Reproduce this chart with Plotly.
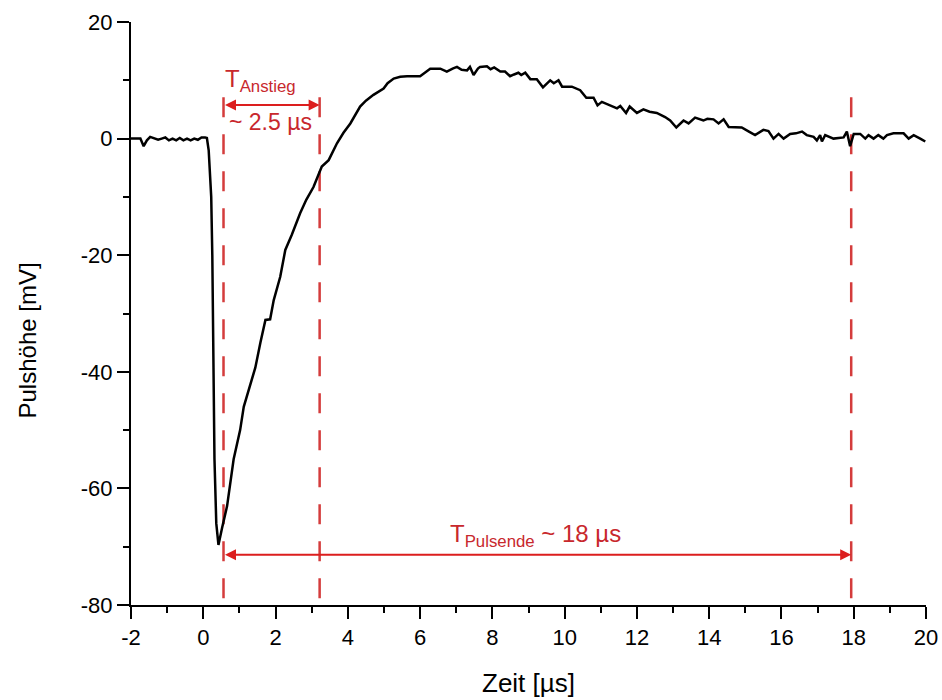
import plotly.graph_objects as go

# Measured pulse (time in µs, pulse height in mV)
time_us = [-2.0, -1.85, -1.74, -1.65, -1.56, -1.47, -1.35, -1.25, -1.15, -1.05, -0.95, -0.85,
           -0.75, -0.65, -0.55, -0.45, -0.35, -0.25, -0.15, -0.05, 0.05, 0.10,
           0.15, 0.19, 0.22, 0.25, 0.27, 0.29, 0.31, 0.36, 0.42,
           0.52, 0.66, 0.84, 1.02, 1.12, 1.28, 1.44, 1.58, 1.72, 1.85, 1.95, 2.13, 2.27,
           2.45, 2.68, 2.85, 3.05, 3.28, 3.47, 3.70, 3.88, 4.07, 4.34, 4.50, 4.71, 4.99,
           5.10, 5.27, 5.45, 5.64, 6.00, 6.15, 6.28, 6.56, 6.74, 6.90, 7.02, 7.15, 7.30,
           7.38, 7.48, 7.60, 7.66, 7.85, 7.95, 8.05, 8.16, 8.22, 8.35, 8.49, 8.60, 8.72,
           8.80, 8.91, 9.05, 9.23, 9.40, 9.50, 9.60, 9.70, 9.83, 9.93, 10.2, 10.43, 10.6,
           10.8, 10.91, 11.03, 11.15, 11.26, 11.45, 11.54, 11.7, 11.8, 12.0, 12.18, 12.35,
           12.55, 12.78, 12.92, 13.09, 13.29, 13.43, 13.61, 13.84, 13.95, 14.12, 14.26,
           14.40, 14.54, 14.7, 14.9, 15.1, 15.27, 15.5, 15.64, 15.78, 15.92, 16.06, 16.24,
           16.4, 16.57, 16.7, 16.89, 16.98, 17.07, 17.12, 17.21, 17.44, 17.72, 17.81, 17.9,
           18.0, 18.18, 18.32, 18.41, 18.55, 18.68, 18.82, 18.92, 19.1, 19.38, 19.52,
           19.66, 19.84, 19.98]
height_mv = [0.0, 0.0, 0.0, -1.3, -0.3, 0.3, 0.0, -0.2, 0.0, 0.2, -0.3, 0.0,
             -0.3, 0.1, -0.3, 0.0, -0.3, 0.0, -0.2, 0.2, 0.2, 0.1,
             -2.0, -6.0, -10.0, -20.0, -31.0, -42.0, -55.0, -66.0, -69.7,
             -66.8, -63.0, -55.0, -50.0, -46.0, -42.5, -39.3, -35.0, -31.1, -31.0, -27.7, -23.7, -19.1,
             -16.5, -12.8, -10.5, -8.3, -4.8, -3.7, -0.8, 1.0, 2.6, 5.5, 6.5, 7.5, 8.6,
             9.5, 10.3, 10.6, 10.7, 10.7, 11.4, 12.0, 12.0, 11.5, 12.0, 12.3, 11.8, 11.7,
             12.3, 10.9, 12.0, 12.3, 12.4, 11.9, 12.2, 11.7, 11.5, 11.5, 10.7, 11.0, 11.3,
             10.9, 11.3, 10.2, 10.2, 8.8, 9.4, 10.0, 9.5, 10.0, 8.9, 8.9, 8.3, 7.0,
             7.0, 5.7, 6.3, 6.0, 5.6, 5.2, 5.6, 4.4, 5.5, 4.4, 5.0, 4.6,
             4.4, 3.7, 3.1, 1.9, 3.1, 2.6, 3.6, 3.1, 3.4, 3.3, 2.6,
             3.3, 2.0, 2.0, 1.9, 1.2, 0.6, 1.5, 1.3, 0.0, 0.8, 0.0, 0.8,
             0.9, 1.2, 0.6, 0.3, -0.3, 0.6, -0.5, 0.6, 0.0, 0.2, 1.2, -1.3,
             0.8, 0.8, 0.0, 0.6, 0.0, 0.6, 0.0, 0.6, 0.9, 0.9, 0.0,
             0.6, 0.0, -0.5]

# Marker times (µs) for the annotations
marker_times = [0.56, 3.22, 17.93]
marker_top_mv = 7.1
anstieg_arrow_mv = 5.75
pulsende_arrow_mv = -71.4

x_ticks = list(range(-2, 21, 2))
x_tick_labels = [str(v) for v in x_ticks]
y_ticks = list(range(-80, 21, 20))
y_tick_labels = [str(v) for v in y_ticks]

TEXT_RED = "#c8282d"
ARROW_RED = "#dc1e1e"
DASH_RED = "#d43c3c"
FONT = "Liberation Sans, Arial, sans-serif"

fig = go.Figure()

for t in marker_times:
    fig.add_trace(go.Scatter(
        x=[t, t], y=[marker_top_mv, -80], mode="lines",
        line=dict(color=DASH_RED, width=2.5, dash="20px,17px"),
        hoverinfo="skip", showlegend=False))

fig.add_trace(go.Scatter(
    x=time_us, y=height_mv, mode="lines",
    line=dict(color="black", width=2.5), showlegend=False))

annotations = []
# double arrows
for (x0, x1, yv) in [(marker_times[0], marker_times[1], anstieg_arrow_mv),
                     (marker_times[0], marker_times[2], pulsende_arrow_mv)]:
    annotations.append(dict(
        x=x1, y=yv, ax=x0, ay=yv, xref="x", yref="y", axref="x", ayref="y",
        text="", showarrow=True, arrowside="end+start",
        arrowhead=2, startarrowhead=2, arrowsize=1.1, startarrowsize=1.1,
        arrowwidth=2, arrowcolor=ARROW_RED, standoff=0, startstandoff=0))

annotations.append(dict(
    x=0.55, y=10.0, xref="x", yref="y", xanchor="left", yanchor="middle",
    text="T<sub>Anstieg</sub>", showarrow=False,
    font=dict(family=FONT, size=24, color=TEXT_RED)))
annotations.append(dict(
    x=1.86, y=2.8, xref="x", yref="y", xanchor="center", yanchor="middle",
    text="~ 2.5 µs", showarrow=False,
    font=dict(family=FONT, size=23, color=TEXT_RED)))
annotations.append(dict(
    x=9.2, y=-68.0, xref="x", yref="y", xanchor="center", yanchor="middle",
    text="T<sub>Pulsende</sub> ~ 18 µs", showarrow=False,
    font=dict(family=FONT, size=24, color=TEXT_RED)))

# axis titles
annotations.append(dict(
    x=0, y=0.5, xref="paper", yref="paper", xshift=-104, yshift=-27,
    xanchor="center", yanchor="middle", textangle=-90,
    text="Pulshöhe [mV]", showarrow=False,
    font=dict(family=FONT, size=24, color="black")))
annotations.append(dict(
    x=0.5, y=0, xref="paper", yref="paper", yshift=-78,
    xanchor="center", yanchor="middle",
    text="Zeit [µs]", showarrow=False,
    font=dict(family=FONT, size=26, color="black")))

axis_common = dict(
    showline=True, linecolor="black", linewidth=2,
    ticks="outside", ticklen=12, tickwidth=2, tickcolor="black",
    showgrid=False, zeroline=False, mirror=False, automargin=False,
    tickfont=dict(family=FONT, size=22, color="black"),
)

fig.update_layout(
    width=942, height=700,
    margin=dict(l=131, r=16, t=22, b=95),
    paper_bgcolor="white", plot_bgcolor="white",
    xaxis=dict(range=[-2, 20], tickmode="array", tickvals=x_ticks, ticktext=x_tick_labels,
               minor=dict(ticks="outside", ticklen=6, tickwidth=2, tickcolor="black", dtick=1),
               **axis_common),
    yaxis=dict(range=[-80, 20], tickmode="array", tickvals=y_ticks, ticktext=y_tick_labels,
               minor=dict(ticks="outside", ticklen=6, tickwidth=2, tickcolor="black", dtick=10),
               **axis_common),
    annotations=annotations,
    showlegend=False,
)

fig.write_html("out.html", config={"displayModeBar": False},
               post_script="document.body.style.margin='0px';document.body.style.overflow='hidden';")
